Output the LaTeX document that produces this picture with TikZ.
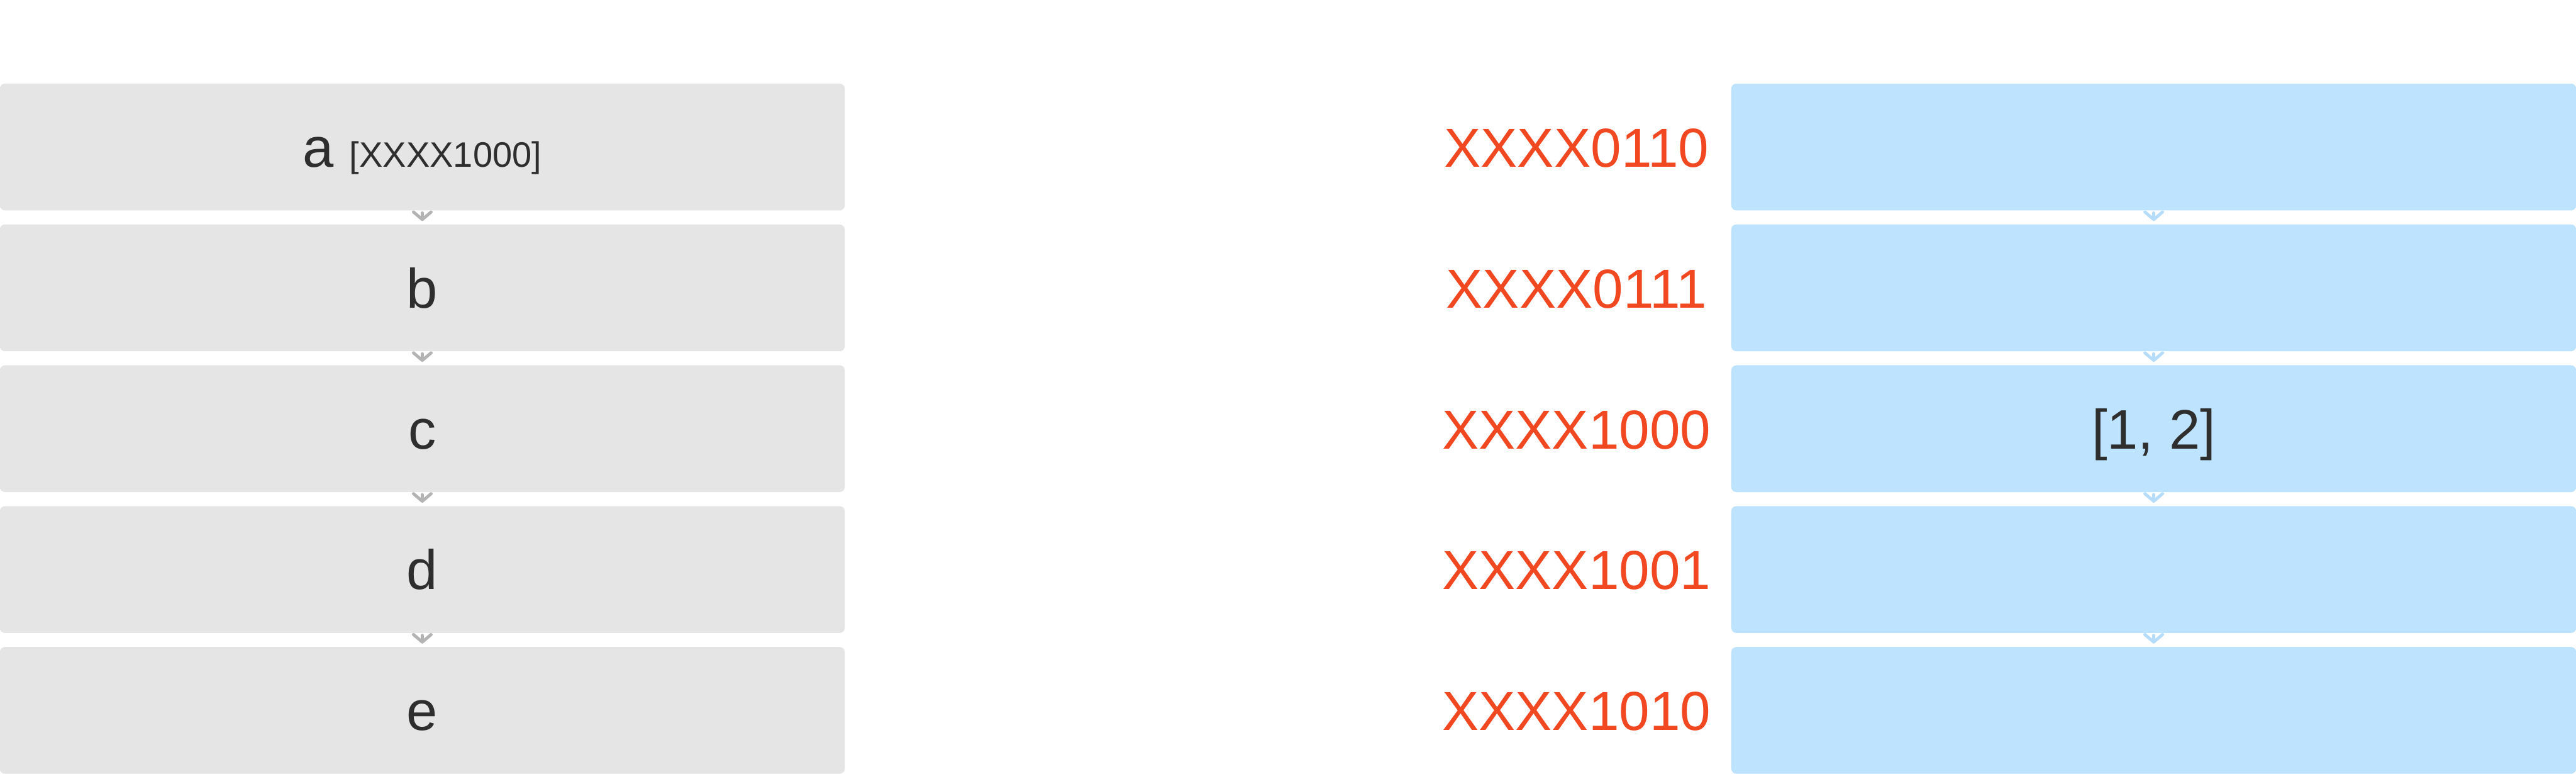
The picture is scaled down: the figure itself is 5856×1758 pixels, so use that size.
\documentclass[tikz,border=0pt]{standalone}
\usepackage{fontspec}
\setmainfont{Liberation Sans}
\usetikzlibrary{arrows.meta}

\definecolor{boxgray}{HTML}{E5E5E5}
\definecolor{boxblue}{HTML}{BDE3FF}
\definecolor{tipgray}{HTML}{B3B3B3}
\definecolor{tipblue}{HTML}{B5DCFA}
\definecolor{addrred}{HTML}{F24822}
\definecolor{ink}{HTML}{2E2E2E}

\tikzset{
  slot/.style={rectangle, rounded corners=0.12cm, minimum width=19.2cm, minimum height=2.88cm,
    inner sep=0pt, text=ink, font=\fontsize{36}{43}\selectfont, text height=0.91cm, text depth=0pt},
  grayslot/.style={slot, fill=boxgray},
  blueslot/.style={slot, fill=boxblue},
  addr/.style={inner sep=0pt, text=addrred, font=\fontsize{35.5}{42}\selectfont, text height=0.91cm, text depth=0pt},
  link/.style={line width=0.07cm, line cap=round, line join=round,
    -{Straight Barb[length=0.17cm, width=0.4cm, round]}, shorten <=0.05cm, shorten >=0.07cm},
  graylink/.style={link, draw=tipgray},
  bluelink/.style={link, draw=tipblue}
}

\begin{document}
\begin{tikzpicture}[x=0.01cm, y=-0.01cm]
\useasboundingbox (0,0) rectangle (5856,1758);

% left column
\node[grayslot] (a) at (960,334) {a {\fontsize{22.8}{27}\selectfont[XXXX1000]}};
\node[grayslot] (b) at (960,654) {b};
\node[grayslot] (c) at (960,974) {c};
\node[grayslot] (d) at (960,1294) {d};
\node[grayslot] (e) at (960,1614) {e};

\draw[graylink] (a.south) -- (b.north);
\draw[graylink] (b.south) -- (c.north);
\draw[graylink] (c.south) -- (d.north);
\draw[graylink] (d.south) -- (e.north);

% addresses
\node[addr] (l0110) at (3584,334) {XXXX0110};
\node[addr] (l0111) at (3584,654) {XXXX0111};
\node[addr] (l1000) at (3584,974) {XXXX1000};
\node[addr] (l1001) at (3584,1294) {XXXX1001};
\node[addr] (l1010) at (3584,1614) {XXXX1010};

% right column
\node[blueslot] (s0110) at (4896,334) {};
\node[blueslot] (s0111) at (4896,654) {};
\node[blueslot] (s1000) at (4896,974) {[1, 2]};
\node[blueslot] (s1001) at (4896,1294) {};
\node[blueslot] (s1010) at (4896,1614) {};

\draw[bluelink] (s0110.south) -- (s0111.north);
\draw[bluelink] (s0111.south) -- (s1000.north);
\draw[bluelink] (s1000.south) -- (s1001.north);
\draw[bluelink] (s1001.south) -- (s1010.north);
\end{tikzpicture}
\end{document}
